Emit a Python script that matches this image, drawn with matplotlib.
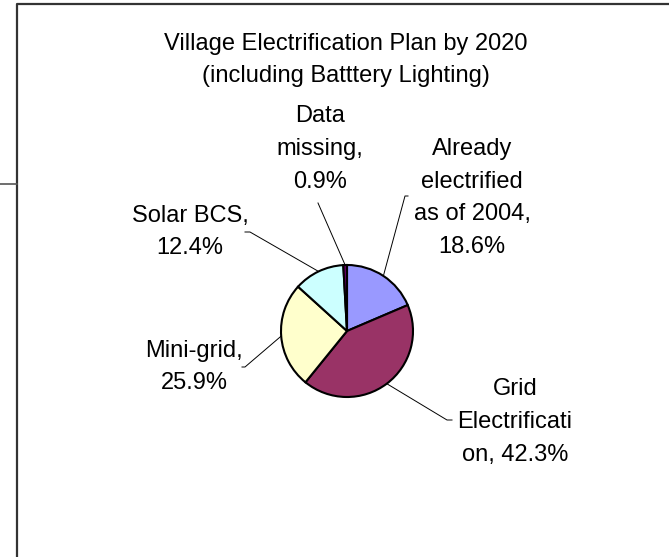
import numpy as np
import matplotlib
matplotlib.use("Agg")
import matplotlib.pyplot as plt

# dados do gráfico
categorias = ["Already\nelectrified\nas of 2004,", "Grid\nElectrificati\non,", "Mini-grid,",
              "Solar BCS,", "Data\nmissing,"]
separadores = ["\n", " ", "\n", "\n", "\n"]
percentuais = [18.6, 42.3, 25.9, 12.4, 0.9]
cores = ["#9999FF", "#993366", "#FFFFCC", "#CCFFFF", "#660066"]
titulo = "Village Electrification Plan by 2020\n(including Batttery Lighting)"

# layout (pixels, y para cima)
centro = (347, 226)
raio = 66
pos_rotulos = [(472, 359), (515, 135), (194, 190), (190, 325), (320, 408)]
pos_linhas = [(405, 361), (447, 137), (245, 190), (250, 325), (318, 354)]
ticks = [3, 5, -3, -5, 0]

plt.rcParams['font.family'] = ['Liberation Sans', 'DejaVu Sans']
tam = 17
esp = 1.63

fig = plt.figure(figsize=(6.69, 5.57), dpi=100)
ax = fig.add_axes([0, 0, 1, 1])

# moldura
ax.plot([17, 17, 680], [-10, 553, 553], color='#333333', lw=1.6, clip_on=False)
ax.plot([0, 17], [373, 373], color='#555555', lw=1.2)

wedges, _ = ax.pie(percentuais, colors=cores, startangle=90, counterclock=False,
                   center=centro, radius=raio, frame=True,
                   wedgeprops=dict(edgecolor='black', linewidth=1.5))
ax.set_xlim(0, 669)
ax.set_ylim(0, 557)
ax.set_aspect('equal')
ax.axis('off')

for w, cat, sep, p, (tx, ty), (lx, ly), tk in zip(wedges, categorias, separadores, percentuais,
                                                   pos_rotulos, pos_linhas, ticks):
    ang = np.deg2rad((w.theta1 + w.theta2) / 2)
    ex = centro[0] + raio * np.cos(ang)
    ey = centro[1] + raio * np.sin(ang)
    ax.plot([ex, lx, lx + tk], [ey, ly, ly], color='black', lw=0.7)
    ax.text(tx, ty, cat + sep + f"{p}%", ha='center', va='center', fontsize=tam,
            linespacing=esp, color='black')

ax.text(346, 497, titulo, ha='center', va='center', fontsize=tam,
        linespacing=esp, color='black')

fig.savefig('out.png', dpi=100, facecolor='white')
